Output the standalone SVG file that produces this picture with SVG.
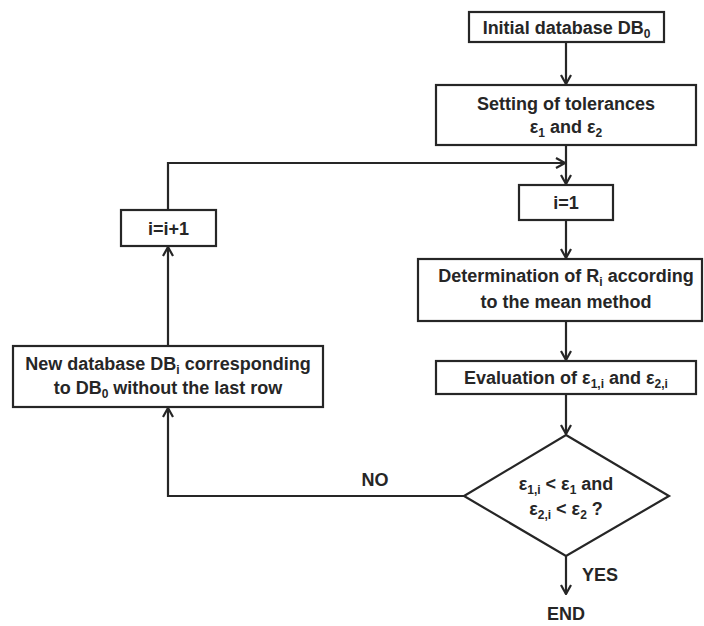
<svg xmlns="http://www.w3.org/2000/svg" width="704" height="626" viewBox="0 0 704 626">
<defs>
<style>
.box{fill:#fff;stroke:#262626;stroke-width:2.2}
.t{font-family:"Liberation Sans",Arial,sans-serif;font-weight:bold;font-size:18px;fill:#262626;text-anchor:middle}
.s{font-size:12px}
.ln{fill:none;stroke:#262626;stroke-width:2.2}
</style>
<marker id="ah" viewBox="0 0 12 12" refX="11" refY="6" markerWidth="12" markerHeight="12" markerUnits="userSpaceOnUse" orient="auto">
<path d="M2,1 L11,6 L2,11" fill="none" stroke="#262626" stroke-width="2.2"/>
</marker>
</defs>
<rect width="704" height="626" fill="#fff"/>
<g id="connectors">
<line class="ln" x1="566" y1="42" x2="566" y2="84" marker-end="url(#ah)"/>
<line class="ln" x1="566" y1="145" x2="566" y2="184" marker-end="url(#ah)"/>
<polyline class="ln" points="168,210 168,163 565,163" marker-end="url(#ah)"/>
<line class="ln" x1="566" y1="220" x2="566" y2="258" marker-end="url(#ah)"/>
<line class="ln" x1="566" y1="321" x2="566" y2="360" marker-end="url(#ah)"/>
<line class="ln" x1="566" y1="394" x2="566" y2="434" marker-end="url(#ah)"/>
<line class="ln" x1="566" y1="556" x2="566" y2="594" marker-end="url(#ah)"/>
<polyline class="ln" points="464,496 168,496 168,408" marker-end="url(#ah)"/>
<line class="ln" x1="168" y1="346" x2="168" y2="247" marker-end="url(#ah)"/>
<text class="t" x="375" y="486">NO</text>
<text class="t" x="582" y="581" style="text-anchor:start">YES</text>
</g>
<g id="n_initial">
<rect class="box" x="469" y="12" width="195" height="30"/>
<text class="t" x="566.5" y="34">Initial database DB<tspan class="s" dy="4">0</tspan></text>
</g>
<g id="n_setting">
<rect class="box" x="436" y="85" width="260" height="60"/>
<text class="t" x="566" y="110">Setting of tolerances</text>
<text class="t" x="566" y="133">ε<tspan class="s" dy="4">1</tspan><tspan dy="-4"> and ε</tspan><tspan class="s" dy="4">2</tspan></text>
</g>
<g id="n_i1">
<rect class="box" x="519" y="185" width="94" height="35"/>
<text class="t" x="566" y="209">i=1</text>
</g>
<g id="n_determination">
<rect class="box" x="418" y="259" width="284" height="62"/>
<text class="t" x="566" y="282">Determination of R<tspan class="s" dy="4">i</tspan><tspan dy="-4"> according</tspan></text>
<text class="t" x="566" y="308">to the mean method</text>
</g>
<g id="n_evaluation">
<rect class="box" x="436" y="361" width="260" height="33"/>
<text class="t" x="566" y="384">Evaluation of ε<tspan class="s" dy="4">1,i</tspan><tspan dy="-4"> and ε</tspan><tspan class="s" dy="4">2,i</tspan></text>
</g>
<g id="n_decision">
<polygon class="box" points="566,435 669,496 566,556 464,496"/>
<text class="t" x="566" y="490">ε<tspan class="s" dy="4">1,i</tspan><tspan dy="-4"> &lt; ε</tspan><tspan class="s" dy="4">1</tspan><tspan dy="-4"> and</tspan></text>
<text class="t" x="566" y="515">ε<tspan class="s" dy="4">2,i</tspan><tspan dy="-4"> &lt; ε</tspan><tspan class="s" dy="4">2</tspan><tspan dy="-4"> ?</tspan></text>
</g>
<g id="n_iplus">
<rect class="box" x="121" y="210" width="95" height="36"/>
<text class="t" x="168.5" y="235">i=i+1</text>
</g>
<g id="n_newdb">
<rect class="box" x="13" y="346" width="310" height="61"/>
<text class="t" x="168" y="370">New database DB<tspan class="s" dy="4">i</tspan><tspan dy="-4"> corresponding</tspan></text>
<text class="t" x="168" y="394">to DB<tspan class="s" dy="4">0</tspan><tspan dy="-4"> without the last row</tspan></text>
</g>
<g id="n_end">
<text class="t" x="566" y="620">END</text>
</g>
</svg>
